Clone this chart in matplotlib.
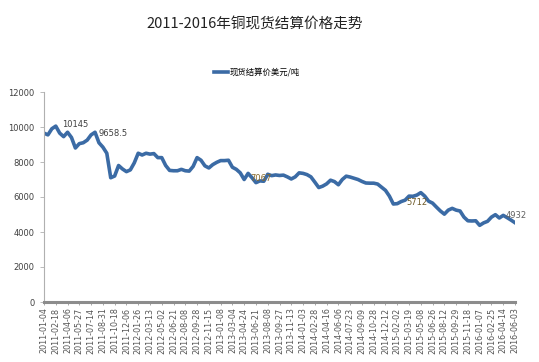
import matplotlib
matplotlib.use("Agg")
import matplotlib.pyplot as plt

plt.rcParams['font.family'] = ['Noto Sans CJK SC', 'DejaVu Sans']

title = "2011-2016年铜现货结算价格走势"
series_name = "现货结算价美元/吨"

tick_labels = [
    "2011-01-04", "2011-02-18", "2011-04-06", "2011-05-27", "2011-07-14",
    "2011-08-31", "2011-10-18", "2011-12-06", "2012-01-26", "2012-03-13",
    "2012-05-02", "2012-06-21", "2012-08-08", "2012-09-28", "2012-11-15",
    "2013-01-08", "2013-03-04", "2013-04-24", "2013-06-21", "2013-08-08",
    "2013-09-27", "2013-11-13", "2014-01-03", "2014-02-28", "2014-04-16",
    "2014-06-06", "2014-07-23", "2014-09-09", "2014-10-28", "2014-12-12",
    "2015-02-02", "2015-03-19", "2015-05-08", "2015-06-26", "2015-08-12",
    "2015-09-29", "2015-11-18", "2016-01-07", "2016-02-25", "2016-04-14",
    "2016-06-03",
]

# price readings, 3 samples per labelled interval
price = [
    9650, 9550, 9900, 10050, 9650, 9450, 9700, 9400, 8800, 9050,
    9100, 9250, 9550, 9700, 9100, 8850, 8500, 7100, 7200, 7800,
    7600, 7450, 7550, 7950, 8500, 8400, 8500, 8450, 8480, 8250,
    8250, 7800, 7520, 7500, 7500, 7580, 7500, 7480, 7750, 8250,
    8100, 7780, 7660, 7850, 7980, 8080, 8080, 8100, 7700, 7580,
    7380, 7000, 7350, 7100, 6820, 6920, 6900, 7300, 7220, 7260,
    7230, 7250, 7150, 7030, 7150, 7380, 7350, 7280, 7150, 6850,
    6540, 6620, 6750, 6960, 6880, 6700, 7000, 7190, 7140, 7070,
    7000, 6890, 6800, 6790, 6790, 6740, 6560, 6380, 6050, 5600,
    5620, 5740, 5820, 6050, 6040, 6110, 6250, 6050, 5760, 5650,
    5420, 5200, 5020, 5250, 5350, 5250, 5200, 4850, 4640, 4630,
    4640, 4380, 4520, 4610, 4850, 4990, 4800, 4950, 4820, 4680,
    4530,
]

# data labels: text, anchor index, anchor value, colour
point_labels = ["10145", "9658.5", "7067", "5712", "4932"]
label_x = [4.6, 13.8, 52.6, 92.4, 117.7]
label_y = [10130, 9610, 7030, 5710, 4970]
label_colors = ["#404040", "#404040", "#8a6a2a", "#6e5a28", "#606060"]

y_ticks = [0, 2000, 4000, 6000, 8000, 10000, 12000]

fig = plt.figure(figsize=(5.39, 3.62), dpi=100)
ax = fig.add_axes([44/539, 60/362, 471/539, 210/362])

x = list(range(len(price)))
line, = ax.plot(x, price, color="#3b6ba5", lw=2.6, solid_joinstyle='round',
                label=series_name)

for t, lx, ly, c in zip(point_labels, label_x, label_y, label_colors):
    ax.text(lx, ly, t, fontsize=6, color=c, ha='left', va='center',
            family=['DejaVu Sans'])

n_int = len(tick_labels) - 1
step = (len(price) - 1) / n_int
ax.set_xticks([i * step for i in range(len(tick_labels))])
ax.set_xticklabels(tick_labels, rotation=90, fontsize=5.8, color="#555555",
                   family=['DejaVu Sans'])
ax.set_xlim(0, len(price) - 1)

ax.set_ylim(0, 12000)
ax.set_yticks(y_ticks)
ax.set_yticklabels([str(v) for v in y_ticks], fontsize=6, color="#404040",
                   family=['DejaVu Sans'])

for s in ['top', 'right']:
    ax.spines[s].set_visible(False)
ax.spines['left'].set_color("#b0b0b0")
ax.spines['left'].set_linewidth(0.8)
ax.spines['bottom'].set_color("#8c8c8c")
ax.spines['bottom'].set_linewidth(2.2)
ax.tick_params(axis='y', length=3, width=0.6, color="#b0b0b0", pad=4)
ax.tick_params(axis='x', length=2, width=0.6, color="#999999", pad=2)

fig.text(255/539, 1 - 25/362, title, ha='center', va='center', fontsize=10.5,
         color="#222222")

fig.legend(handles=[line], loc='center', bbox_to_anchor=(257/539, 1 - 72/362),
           frameon=False, fontsize=6, handlelength=1.6, handletextpad=0.2,
           borderpad=0)

fig.savefig("out.png", dpi=100)
